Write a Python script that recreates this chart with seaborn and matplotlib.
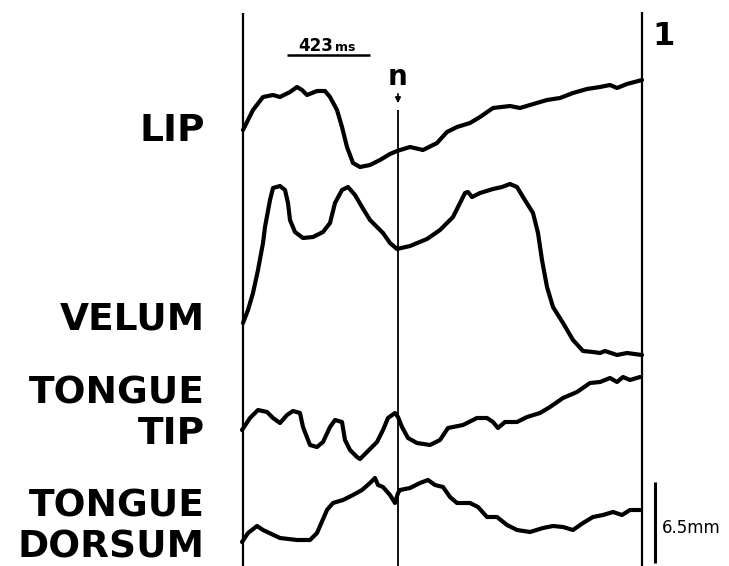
import matplotlib
matplotlib.use("Agg")
import matplotlib.pyplot as plt
import seaborn as sns
import pandas as pd

# ---- data (time axis in display units, displacement in display units) ----
lip_t = [243, 253, 263, 273, 280, 290, 297, 302, 307, 317, 325, 330, 337, 342, 347, 353, 360, 370,
         380, 390, 397, 410, 423, 437, 447, 457, 470, 480, 493, 510, 520, 530, 547, 560, 573, 587,
         600, 610, 617, 627, 642]
lip_y = [130, 110, 97, 95, 97, 92, 87, 90, 95, 91, 91, 97, 110, 127, 147, 163, 167, 165,
         160, 154, 151, 147, 150, 143, 132, 127, 123, 117, 108, 106, 108, 105, 100, 98, 93, 89,
         87, 85, 88, 84, 80]

velum_t = [243, 248, 253, 258, 263, 265, 270, 273, 280, 285, 288, 290, 295, 303, 313, 323, 330, 335,
           342, 348, 355, 362, 370, 383, 390, 397, 410, 427, 440, 453, 460, 465, 468, 472, 480, 493,
           502, 510, 517, 523, 533, 538, 542, 547, 553, 563, 573, 583, 593, 600, 605, 617, 627, 642]
velum_y = [323, 310, 293, 270, 243, 227, 200, 188, 186, 190, 203, 220, 232, 238, 237, 232, 223, 203,
           190, 187, 195, 207, 220, 233, 243, 249, 246, 239, 230, 217, 203, 193, 192, 197, 193, 189,
           187, 184, 187, 197, 213, 233, 260, 287, 307, 323, 340, 351, 352, 353, 351, 355, 353, 355]

tip_t = [242, 250, 258, 267, 273, 280, 287, 293, 300, 303, 310, 317, 323, 330, 335, 342, 345, 350,
         357, 360, 367, 377, 383, 388, 395, 398, 402, 408, 417, 430, 440, 448, 463, 477, 487, 493,
         498, 505, 517, 527, 540, 550, 563, 577, 590, 600, 610, 617, 623, 630, 640]
tip_y = [430, 418, 410, 412, 418, 423, 415, 411, 413, 427, 445, 447, 442, 427, 420, 422, 440, 450,
         457, 459, 452, 442, 430, 418, 413, 417, 427, 438, 443, 445, 440, 428, 425, 418, 418, 422,
         428, 422, 422, 417, 413, 407, 398, 392, 383, 382, 378, 382, 377, 380, 377]

dorsum_t = [242, 248, 257, 263, 280, 297, 310, 317, 327, 333, 343, 353, 362, 370, 375, 378, 383, 390,
            395, 398, 400, 410, 420, 428, 435, 443, 450, 457, 470, 478, 487, 497, 507, 517, 530, 543,
            553, 563, 573, 583, 593, 603, 613, 622, 630, 640]
dorsum_y = [542, 533, 526, 530, 538, 540, 540, 533, 510, 503, 500, 495, 490, 483, 478, 485, 487, 495,
            503, 493, 490, 488, 483, 480, 485, 487, 497, 503, 503, 507, 517, 517, 525, 530, 532, 528,
            526, 527, 530, 523, 517, 515, 512, 515, 510, 510]

labels = ["LIP", "VELUM", "TONGUE\nTIP", "TONGUE\nDORSUM"]
label_y = [131, 320, 414, 527]

scale_time = "423"
scale_time_unit = "ms"
scale_disp = "6.5mm"
event_label = "n"
panel_label = "1"

# ---- figure ----
sns.set_style("white")
plt.rcParams["font.family"] = ["DejaVu Sans"]
plt.rcParams["text.color"] = "black"

fig = plt.figure(figsize=(7.29, 5.66), dpi=100)
ax = fig.add_axes([0, 0, 1, 1])

frames = []
for name, t, y in [("LIP", lip_t, lip_y), ("VELUM", velum_t, velum_y),
                   ("TONGUE TIP", tip_t, tip_y), ("TONGUE DORSUM", dorsum_t, dorsum_y)]:
    frames.append(pd.DataFrame({"t": t, "y": y, "trace": name}))
df = pd.concat(frames, ignore_index=True)

for name, sub in df.groupby("trace", sort=False):
    sns.lineplot(data=sub, x="t", y="y", ax=ax, color="black", linewidth=3.0,
                 sort=False, estimator=None, legend=False)

ax.set_xlim(0, 729)
ax.set_ylim(566, 0)
ax.axis("off")

# vertical reference lines
ax.vlines(243, 13, 566, color="black", linewidth=1.6)
ax.vlines(398, 110, 566, color="black", linewidth=1.3)
ax.vlines(642, 12, 566, color="black", linewidth=1.6)

# event marker
ax.text(398, 85, event_label, ha="center", va="baseline", fontsize=20,
        fontweight="bold", color="black")
ax.annotate("", xy=(398, 106), xytext=(398, 91),
            arrowprops=dict(arrowstyle="-|>", color="black", lw=1.2,
                            mutation_scale=8))

# time scale bar
ax.hlines(55, 287, 370, color="black", linewidth=1.8)
ax.text(333, 51, scale_time, ha="right", va="baseline", fontsize=12,
        fontweight="bold", color="black")
ax.text(335, 51, scale_time_unit, ha="left", va="baseline", fontsize=9,
        fontweight="bold", color="black")

# panel number
ax.text(652, 45, panel_label, ha="left", va="baseline", fontsize=23,
        fontweight="bold", color="black")

# displacement scale bar
ax.vlines(655, 482, 563, color="black", linewidth=2.2)
ax.text(662, 528, scale_disp, ha="left", va="center", fontsize=12,
        color="black")

# trace labels
for lab, yy in zip(labels, label_y):
    ax.text(205, yy, lab, ha="right", va="center", fontsize=27, fontweight="bold",
            linespacing=1.15, multialignment="right", color="black")

fig.savefig("out.png", dpi=100)
